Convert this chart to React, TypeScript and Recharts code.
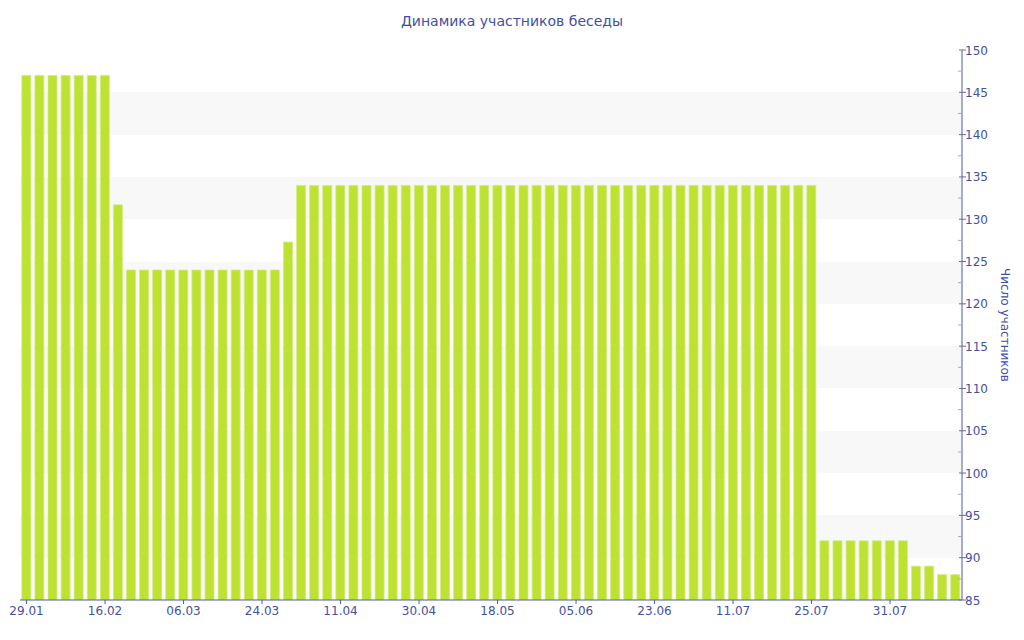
import { Bar, BarChart, CartesianGrid, XAxis, YAxis } from 'recharts'

// один столбец на каждое измерение
const members = [
  147, 147, 147, 147, 147, 147, 147, 131.7,
  124, 124, 124, 124, 124, 124, 124, 124, 124, 124, 124, 124,
  127.3,
  134, 134, 134, 134, 134, 134, 134, 134, 134, 134,
  134, 134, 134, 134, 134, 134, 134, 134, 134, 134,
  134, 134, 134, 134, 134, 134, 134, 134, 134, 134,
  134, 134, 134, 134, 134, 134, 134, 134, 134, 134,
  92, 92, 92, 92, 92, 92, 92,
  89, 89, 88, 88,
]

// подпись под каждым шестым столбцом
const dateLabels = [
  '29.01', '16.02', '06.03', '24.03', '11.04', '30.04',
  '18.05', '05.06', '23.06', '11.07', '25.07', '31.07',
]
const labelStep = 6

const yMajor = [85, 90, 95, 100, 105, 110, 115, 120, 125, 130, 135, 140, 145, 150]
const yMinor = [87.5, 92.5, 97.5, 102.5, 107.5, 112.5, 117.5, 122.5, 127.5, 132.5, 137.5, 142.5, 147.5]

const data = members.map((value, i) => ({ i, value }))
const xTicks = dateLabels.map((_, k) => k * labelStep)

const axisColor = '#4d5fa6'
const textColor = '#3f51a0'
const font = '"DejaVu Sans", Verdana, sans-serif'

function YTick({ x, y, payload }: any) {
  const major = yMajor.includes(payload.value)
  if (!major) {
    return <line x1={x - 4} x2={x} y1={y} y2={y} stroke="#aaaaaa" />
  }
  return (
    <g>
      <line x1={x - 3} x2={x + 4} y1={y} y2={y} stroke="#666f8f" />
      <text x={x + 3} y={y} dy={4.5} fill={textColor} fontSize={12} fontFamily={font}>
        {payload.value}
      </text>
    </g>
  )
}

function YLabel({ viewBox }: any) {
  const cx = viewBox.x + 43
  const cy = viewBox.y + viewBox.height / 2
  return (
    <text
      x={cx}
      y={cy}
      transform={`rotate(90 ${cx} ${cy})`}
      textAnchor="middle"
      dominantBaseline="central"
      fill={textColor}
      fontSize={12}
      fontFamily={font}
    >
      Число участников
    </text>
  )
}

export default function App() {
  return (
    <div style={{ position: 'absolute', left: 0, top: 0, width: 1024, height: 640, background: '#fff' }}>
      <div
        style={{
          position: 'absolute',
          top: 13,
          left: 0,
          width: 1024,
          textAlign: 'center',
          fontFamily: font,
          fontSize: 14,
          color: textColor,
        }}
      >
        Динамика участников беседы
      </div>
      <BarChart
        width={1024}
        height={640}
        data={data}
        margin={{ top: 50, right: 0, bottom: 0, left: 20 }}
        barCategoryGap="14%"
      >
        <CartesianGrid
          vertical={false}
          stroke="none"
          horizontalValues={yMajor}
          horizontalFill={['#ffffff', '#f8f8f8']}
        />
        <XAxis
          dataKey="i"
          ticks={xTicks}
          interval={0}
          tickFormatter={(i) => dateLabels[i / labelStep] ?? ''}
          stroke={axisColor}
          tickSize={4}
          tickMargin={2}
          height={40}
          tick={{ fill: textColor, fontSize: 12, fontFamily: font }}
        />
        <YAxis
          orientation="right"
          domain={[85, 150]}
          ticks={[...yMajor, ...yMinor]}
          allowDataOverflow
          interval={0}
          width={62}
          stroke={axisColor}
          tickLine={false}
          tickSize={0}
          tickMargin={0}
          tick={<YTick />}
          label={{ content: <YLabel /> }}
        />
        <Bar
          dataKey="value"
          fill="#bde232"
          stroke="#d4ec7e"
          strokeWidth={0.8}
          isAnimationActive={false}
        />
      </BarChart>
    </div>
  )
}
